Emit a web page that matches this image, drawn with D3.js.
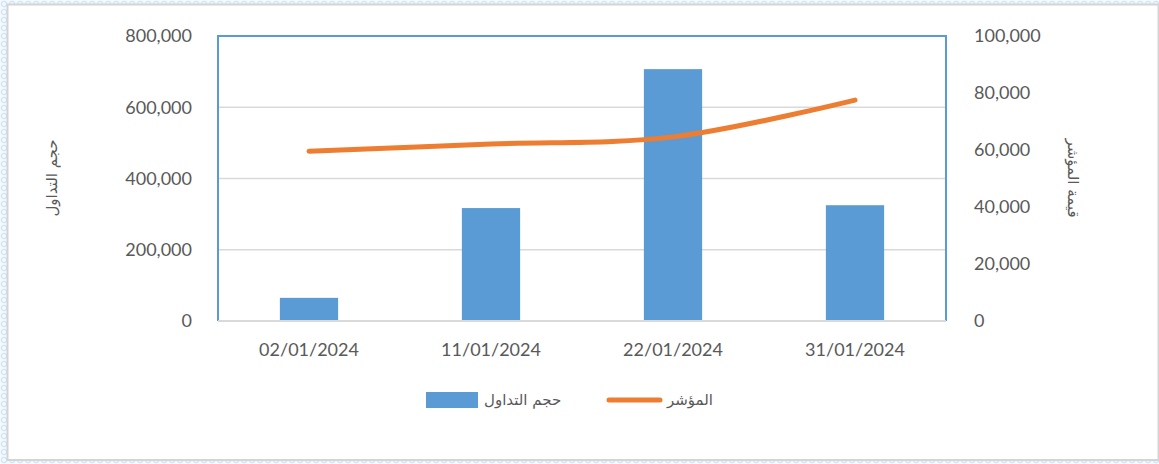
<!DOCTYPE html>
<html>
<head>
<meta charset="utf-8">
<script src="https://cdn.jsdelivr.net/npm/d3@7.9.0/dist/d3.min.js"></script>
<style>
  body { margin: 0; background: #fff; }
  svg { display: block; }
  .tick text { font-family: Lato, "Liberation Sans", sans-serif; font-size: 18px; fill: #595959; }
  .ar { font-family: "DejaVu Sans", sans-serif; font-size: 15px; fill: #595959; }
</style>
</head>
<body>
<svg width="1159" height="464"></svg>
<script>
const dates = ['02/01/2024', '11/01/2024', '22/01/2024', '31/01/2024']
const volume = [65000, 317000, 707000, 325000]
const index = [59600, 62100, 64600, 77500]
const leftTicks = [0, 200000, 400000, 600000, 800000]
const rightTicks = [0, 20000, 40000, 60000, 80000, 100000]
const volumeLabel = 'حجم التداول'
const indexLabel = 'المؤشر'
const rightTitle = 'قيمة المؤشر'

const svg = d3.select('svg')

// hatched outer background
let defs = svg.append('defs')
let pat = defs.append('pattern').attr('id', 'bg').attr('width', 8).attr('height', 8)
  .attr('patternUnits', 'userSpaceOnUse')
pat.append('rect').attr('width', 8).attr('height', 8).attr('fill', '#f4f9fd')
pat.append('circle').attr('cx', 4).attr('cy', 4).attr('r', 2.6)
  .attr('fill', 'none').attr('stroke', '#cfe5f6').attr('stroke-width', 1.2)
svg.append('rect').attr('width', 1159).attr('height', 464).attr('fill', 'url(#bg)')
svg.append('rect').attr('x', 7.5).attr('y', 4.5).attr('width', 1151).attr('height', 455.5)
  .attr('fill', '#fff').attr('stroke', '#d4d4d4').attr('stroke-width', 2)

const pLeft = 218, pRight = 946, pTop = 36, pBottom = 321

let x = d3.scaleBand().domain(dates).range([pLeft, pRight]).paddingInner(0.68).paddingOuter(0.34)
let yL = d3.scaleLinear().domain([0, 800000]).range([pBottom, pTop])
let yR = d3.scaleLinear().domain([0, 100000]).range([pBottom, pTop])
let fmt = d3.format(',')

// gridlines
svg.append('g').selectAll('line').data(leftTicks.slice(1)).join('line')
  .attr('x1', pLeft).attr('x2', pRight)
  .attr('y1', d => yL(d)).attr('y2', d => yL(d))
  .attr('stroke', '#d9d9d9').attr('stroke-width', 1.5)

// bars
svg.append('g').selectAll('rect').data(volume).join('rect')
  .attr('x', (d, i) => x(dates[i]))
  .attr('width', x.bandwidth())
  .attr('y', d => yL(d))
  .attr('height', d => pBottom - yL(d))
  .attr('fill', '#5b9bd5')

// plot frame (blue on top/left/right)
svg.append('path')
  .attr('d', `M${pLeft},${pBottom}V${pTop}H${pRight}V${pBottom}`)
  .attr('fill', 'none').attr('stroke', '#5b9bd5').attr('stroke-width', 2)
svg.append('line').attr('x1', pLeft).attr('x2', pRight).attr('y1', pBottom).attr('y2', pBottom)
  .attr('stroke', '#d9d9d9').attr('stroke-width', 2)

// index line
let line = d3.line()
  .x((d, i) => x(dates[i]) + x.bandwidth() / 2)
  .y(d => yR(d))
  .curve(d3.curveCatmullRom.alpha(0.5))
svg.append('path').datum(index)
  .attr('d', line)
  .attr('fill', 'none').attr('stroke', '#ed7d31').attr('stroke-width', 5)
  .attr('stroke-linecap', 'round').attr('stroke-linejoin', 'round')

// axes
let axL = svg.append('g').attr('transform', `translate(${pLeft},0)`)
  .call(d3.axisLeft(yL).tickValues(leftTicks).tickFormat(fmt).tickSize(0).tickPadding(26))
axL.select('.domain').remove()

let axR = svg.append('g').attr('transform', `translate(${pRight},0)`)
  .call(d3.axisRight(yR).tickValues(rightTicks).tickFormat(fmt).tickSize(0).tickPadding(28))
axR.select('.domain').remove()

let axB = svg.append('g').attr('transform', `translate(0,${pBottom})`)
  .call(d3.axisBottom(x).tickSize(0).tickPadding(22))
axB.select('.domain').remove()

// axis titles
svg.append('text').attr('class', 'ar')
  .attr('transform', 'translate(57,178) rotate(-90)')
  .attr('text-anchor', 'middle')
  .text(volumeLabel)
svg.append('text').attr('class', 'ar')
  .attr('transform', 'translate(1068,178) rotate(90)')
  .attr('text-anchor', 'middle')
  .text(rightTitle)

// legend
let lg = svg.append('g')
lg.append('rect').attr('x', 426).attr('y', 392).attr('width', 52).attr('height', 16).attr('fill', '#5b9bd5')
lg.append('text').attr('class', 'ar').attr('x', 484).attr('y', 405)
  .attr('text-anchor', 'start').text(volumeLabel)
lg.append('line').attr('x1', 609).attr('x2', 660).attr('y1', 400).attr('y2', 400)
  .attr('stroke', '#ed7d31').attr('stroke-width', 5).attr('stroke-linecap', 'round')
lg.append('text').attr('class', 'ar').attr('x', 667).attr('y', 405)
  .attr('text-anchor', 'start').text(indexLabel)
</script>
</body>
</html>
